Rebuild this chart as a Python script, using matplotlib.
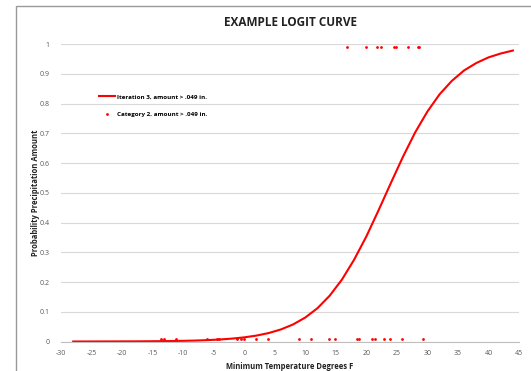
import matplotlib
matplotlib.use('Agg')
import matplotlib.pyplot as plt
from matplotlib.patches import Rectangle

# Curva logit
curve_x = [-28, -26, -24, -22, -20, -18, -16, -14, -12, -10, -8, -6, -4, -2,
           0, 2, 4, 6, 8, 10, 12, 14, 16, 18, 20, 22, 24, 26, 28, 30, 32, 34,
           36, 38, 40, 42, 44]
curve_y = [0.0001, 0.0001, 0.0002, 0.0003, 0.0004, 0.0005, 0.0008, 0.0011,
           0.0016, 0.0023, 0.0032, 0.0047, 0.0067, 0.0097, 0.0139, 0.0199,
           0.0284, 0.0405, 0.0573, 0.0806, 0.112, 0.154, 0.208, 0.275, 0.353,
           0.441, 0.532, 0.621, 0.703, 0.773, 0.831, 0.876, 0.911, 0.936,
           0.955, 0.968, 0.978]

# Observaciones (categoria 2)
obs_x = [-13.6, -13.2, -11.2, -6.1, -4.5, -4.1, -1.1, -0.5, 0.0, 1.9, 3.9,
         8.9, 10.9, 13.9, 14.9, 18.4, 18.8, 21.0, 21.5, 22.9, 23.9, 25.9, 29.3,
         16.9, 19.9, 21.8, 22.4, 24.5, 24.8, 26.8, 28.4, 28.7]
obs_y = [0.01] * 23 + [0.99] * 9

x_ticks = list(range(-30, 50, 5))
y_ticks = [0, 0.1, 0.2, 0.3, 0.4, 0.5, 0.6, 0.7, 0.8, 0.9, 1]
y_labels = ['0', '0.1', '0.2', '0.3', '0.4', '0.5', '0.6', '0.7', '0.8', '0.9', '1']

plt.rcParams['font.family'] = ['Open Sans', 'DejaVu Sans']
plt.rcParams['axes.unicode_minus'] = False

fig = plt.figure(figsize=(5.31, 3.71), dpi=100)
fig.patches.append(Rectangle((16 / 531, -0.1), 1.2, 1.1 - 6 / 371,
                             transform=fig.transFigure, fill=False,
                             edgecolor='#9a9a9a', linewidth=1.0))
ax = fig.add_axes([0.1149, 0.0795, 0.8625, 0.8019])

ax.plot(curve_x, curve_y, color='#ff0000', lw=1.5,
        label='Iteration 3, amount > .049 in.')
ax.plot(obs_x, obs_y, 'o', color='#ff0000', ms=2.0, mew=0, ls='none',
        label='Category 2, amount > .049 in.')

ax.set_xlim(-30, 45)
ax.set_ylim(0, 1)
ax.set_xticks(x_ticks)
ax.set_yticks(y_ticks)
ax.set_yticklabels(y_labels)
ax.tick_params(length=0, labelsize=5, labelcolor='#595959')
ax.tick_params(axis='x', pad=6)
ax.tick_params(axis='y', pad=8)
ax.grid(axis='y', color='#d9d9d9', lw=0.8)
ax.set_axisbelow(True)
for s in ['left', 'right', 'top']:
    ax.spines[s].set_visible(False)
ax.spines['bottom'].set_color('#bfbfbf')
ax.spines['bottom'].set_linewidth(0.8)

ax.set_title('EXAMPLE LOGIT CURVE', fontsize=8.5, fontweight='bold',
             color='#222222', pad=13)
ax.set_xlabel('Minimum Temperature Degrees F', fontsize=5.5,
              fontweight='bold', color='#222222', labelpad=4)
ax.set_ylabel('Probability Precipitation Amount', fontsize=5.5,
              fontweight='bold', color='#222222', labelpad=0)

ax.legend(loc='upper left', bbox_to_anchor=(0.07, 0.85), frameon=False,
          handlelength=2.6, labelspacing=1.9, handletextpad=0.3,
          prop={'weight': 'bold', 'size': 4.5})

fig.savefig('out.png', dpi=100)
